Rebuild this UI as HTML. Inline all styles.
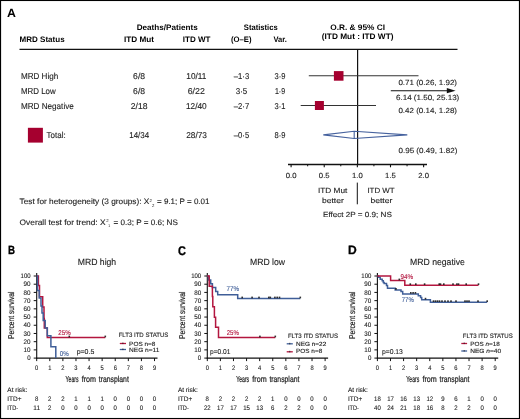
<!DOCTYPE html>
<html><head><meta charset="utf-8"><style>
html,body{margin:0;padding:0;background:#fff;}
body{width:520px;height:419px;overflow:hidden;}
svg{display:block;font-family:"Liberation Sans", sans-serif;will-change:transform;text-rendering:geometricPrecision;}
</style></head><body>
<svg width="520" height="419" viewBox="0 0 520 419">
<rect x="0" y="0" width="520" height="419" fill="#fff"/>
<text x="7" y="17" font-size="12" font-weight="bold" textLength="8.9" lengthAdjust="spacingAndGlyphs" fill="#000">A</text>
<text x="19.6" y="42" font-size="8.0" font-weight="bold" textLength="45" lengthAdjust="spacingAndGlyphs" fill="#000">MRD Status</text>
<text x="136.7" y="29.8" font-size="8.0" font-weight="bold" textLength="61" lengthAdjust="spacingAndGlyphs" fill="#000">Deaths/Patients</text>
<text x="124" y="41.8" font-size="8.0" font-weight="bold" textLength="30" lengthAdjust="spacingAndGlyphs" fill="#000">ITD Mut</text>
<text x="182.8" y="41.8" font-size="8.0" font-weight="bold" textLength="27.6" lengthAdjust="spacingAndGlyphs" fill="#000">ITD WT</text>
<text x="243.8" y="29.8" font-size="8.0" font-weight="bold" textLength="33.9" lengthAdjust="spacingAndGlyphs" fill="#000">Statistics</text>
<text x="231" y="41.8" font-size="8.0" font-weight="bold" textLength="20.6" lengthAdjust="spacingAndGlyphs" fill="#000">(O–E)</text>
<text x="273.5" y="41.8" font-size="8.0" font-weight="bold" textLength="13.4" lengthAdjust="spacingAndGlyphs" fill="#000">Var.</text>
<text x="330.2" y="29.8" font-size="8.0" font-weight="bold" textLength="54.8" lengthAdjust="spacingAndGlyphs" fill="#000">O.R. &amp; 95% CI</text>
<text x="321.8" y="39.2" font-size="8.0" font-weight="bold" textLength="71.7" lengthAdjust="spacingAndGlyphs" fill="#000">(ITD Mut : ITD WT)</text>
<line x1="19.5" y1="49.4" x2="457.5" y2="49.4" stroke="#111" stroke-width="1.4"/>
<text x="20.9" y="79" font-size="8.5" textLength="37.3" lengthAdjust="spacingAndGlyphs" fill="#1e1e1e" stroke="#1e1e1e" stroke-width="0.12">MRD High</text>
<text x="133.1" y="79" font-size="8.5" textLength="12" lengthAdjust="spacingAndGlyphs" fill="#1e1e1e" stroke="#1e1e1e" stroke-width="0.12">6/8</text>
<text x="186.3" y="79" font-size="8.5" textLength="20" lengthAdjust="spacingAndGlyphs" fill="#1e1e1e" stroke="#1e1e1e" stroke-width="0.12">10/11</text>
<text x="233.8" y="79" font-size="8.5" textLength="15.4" lengthAdjust="spacingAndGlyphs" fill="#1e1e1e" stroke="#1e1e1e" stroke-width="0.12">–1·3</text>
<text x="274.55" y="79" font-size="8.5" textLength="10.9" lengthAdjust="spacingAndGlyphs" fill="#1e1e1e" stroke="#1e1e1e" stroke-width="0.12">3·9</text>
<text x="20.9" y="94" font-size="8.5" textLength="34.8" lengthAdjust="spacingAndGlyphs" fill="#1e1e1e" stroke="#1e1e1e" stroke-width="0.12">MRD Low</text>
<text x="133.1" y="94" font-size="8.5" textLength="12" lengthAdjust="spacingAndGlyphs" fill="#1e1e1e" stroke="#1e1e1e" stroke-width="0.12">6/8</text>
<text x="187.7" y="94" font-size="8.5" textLength="17.2" lengthAdjust="spacingAndGlyphs" fill="#1e1e1e" stroke="#1e1e1e" stroke-width="0.12">6/22</text>
<text x="235.7" y="94" font-size="8.5" textLength="11.6" lengthAdjust="spacingAndGlyphs" fill="#1e1e1e" stroke="#1e1e1e" stroke-width="0.12">3·5</text>
<text x="274.9" y="94" font-size="8.5" textLength="10.2" lengthAdjust="spacingAndGlyphs" fill="#1e1e1e" stroke="#1e1e1e" stroke-width="0.12">1·9</text>
<text x="20.9" y="108.9" font-size="8.5" textLength="52.9" lengthAdjust="spacingAndGlyphs" fill="#1e1e1e" stroke="#1e1e1e" stroke-width="0.12">MRD Negative</text>
<text x="130.7" y="108.9" font-size="8.5" textLength="16.8" lengthAdjust="spacingAndGlyphs" fill="#1e1e1e" stroke="#1e1e1e" stroke-width="0.12">2/18</text>
<text x="185.9" y="108.9" font-size="8.5" textLength="20.8" lengthAdjust="spacingAndGlyphs" fill="#1e1e1e" stroke="#1e1e1e" stroke-width="0.12">12/40</text>
<text x="233.8" y="108.9" font-size="8.5" textLength="15.4" lengthAdjust="spacingAndGlyphs" fill="#1e1e1e" stroke="#1e1e1e" stroke-width="0.12">–2·7</text>
<text x="274.55" y="108.9" font-size="8.5" textLength="10.9" lengthAdjust="spacingAndGlyphs" fill="#1e1e1e" stroke="#1e1e1e" stroke-width="0.12">3·1</text>
<rect x="27.9" y="127.8" width="15" height="14.8" fill="#a5002f"/>
<text x="46.6" y="138" font-size="8.5" textLength="19.2" lengthAdjust="spacingAndGlyphs" fill="#1e1e1e" stroke="#1e1e1e" stroke-width="0.12">Total:</text>
<text x="129.2" y="138" font-size="8.5" textLength="20" lengthAdjust="spacingAndGlyphs" fill="#1e1e1e" stroke="#1e1e1e" stroke-width="0.12">14/34</text>
<text x="186.2" y="138" font-size="8.5" textLength="20.8" lengthAdjust="spacingAndGlyphs" fill="#1e1e1e" stroke="#1e1e1e" stroke-width="0.12">28/73</text>
<text x="233.8" y="138" font-size="8.5" textLength="15.4" lengthAdjust="spacingAndGlyphs" fill="#1e1e1e" stroke="#1e1e1e" stroke-width="0.12">–0·5</text>
<text x="274.55" y="138" font-size="8.5" textLength="10.9" lengthAdjust="spacingAndGlyphs" fill="#1e1e1e" stroke="#1e1e1e" stroke-width="0.12">8·9</text>
<line x1="357.6" y1="49.4" x2="357.6" y2="164.5" stroke="#111" stroke-width="1.2"/>
<line x1="308.8" y1="75.7" x2="418.5" y2="75.7" stroke="#333" stroke-width="1.1"/>
<rect x="333.9" y="71.1" width="9.6" height="9.6" fill="#a5002f"/>
<line x1="390.8" y1="90.7" x2="449" y2="90.7" stroke="#111" stroke-width="1.1"/>
<polygon points="446.8,88.1 455.6,90.7 446.8,93.3" fill="#111"/>
<line x1="300.7" y1="105.5" x2="376" y2="105.5" stroke="#333" stroke-width="1.1"/>
<rect x="314.9" y="101" width="9" height="9" fill="#a5002f"/>
<polygon points="323.3,134.85 354.2,131.2 407.3,134.85 354.2,138.5" fill="none" stroke="#46629e" stroke-width="1.1"/>
<line x1="354.2" y1="131.2" x2="354.2" y2="138.5" stroke="#46629e" stroke-width="1.1"/>
<text x="398.4" y="85.3" font-size="7.4" textLength="58.6" lengthAdjust="spacingAndGlyphs" fill="#1e1e1e" stroke="#1e1e1e" stroke-width="0.12">0.71 (0.26, 1.92)</text>
<text x="396.0" y="100.3" font-size="7.4" textLength="63.3" lengthAdjust="spacingAndGlyphs" fill="#1e1e1e" stroke="#1e1e1e" stroke-width="0.12">6.14 (1.50, 25.13)</text>
<text x="398.4" y="112.5" font-size="7.4" textLength="58.6" lengthAdjust="spacingAndGlyphs" fill="#1e1e1e" stroke="#1e1e1e" stroke-width="0.12">0.42 (0.14, 1.28)</text>
<text x="398.5" y="152.6" font-size="7.4" textLength="58.9" lengthAdjust="spacingAndGlyphs" fill="#1e1e1e" stroke="#1e1e1e" stroke-width="0.12">0.95 (0.49, 1.82)</text>
<line x1="288" y1="164.5" x2="427" y2="164.5" stroke="#111" stroke-width="1.4"/>
<line x1="291.1" y1="164.5" x2="291.1" y2="167.3" stroke="#111" stroke-width="1.1"/>
<text x="285.75" y="177.8" font-size="7.4" textLength="10.7" lengthAdjust="spacingAndGlyphs" fill="#1e1e1e" stroke="#1e1e1e" stroke-width="0.12">0.0</text>
<line x1="307.66" y1="164.5" x2="307.66" y2="166.3" stroke="#111" stroke-width="1.0"/>
<line x1="324.23" y1="164.5" x2="324.23" y2="167.3" stroke="#111" stroke-width="1.1"/>
<text x="318.88" y="177.8" font-size="7.4" textLength="10.7" lengthAdjust="spacingAndGlyphs" fill="#1e1e1e" stroke="#1e1e1e" stroke-width="0.12">0.5</text>
<line x1="340.79" y1="164.5" x2="340.79" y2="166.3" stroke="#111" stroke-width="1.0"/>
<line x1="357.36" y1="164.5" x2="357.36" y2="167.3" stroke="#111" stroke-width="1.1"/>
<text x="352.01" y="177.8" font-size="7.4" textLength="10.7" lengthAdjust="spacingAndGlyphs" fill="#1e1e1e" stroke="#1e1e1e" stroke-width="0.12">1.0</text>
<line x1="373.92" y1="164.5" x2="373.92" y2="166.3" stroke="#111" stroke-width="1.0"/>
<line x1="390.49" y1="164.5" x2="390.49" y2="167.3" stroke="#111" stroke-width="1.1"/>
<text x="385.14" y="177.8" font-size="7.4" textLength="10.7" lengthAdjust="spacingAndGlyphs" fill="#1e1e1e" stroke="#1e1e1e" stroke-width="0.12">1.5</text>
<line x1="407.05" y1="164.5" x2="407.05" y2="166.3" stroke="#111" stroke-width="1.0"/>
<line x1="423.62" y1="164.5" x2="423.62" y2="167.3" stroke="#111" stroke-width="1.1"/>
<text x="418.27" y="177.8" font-size="7.4" textLength="10.7" lengthAdjust="spacingAndGlyphs" fill="#1e1e1e" stroke="#1e1e1e" stroke-width="0.12">2.0</text>
<line x1="357.3" y1="182.6" x2="357.3" y2="204.3" stroke="#111" stroke-width="1.0"/>
<text x="318" y="193" font-size="7.4" textLength="29.3" lengthAdjust="spacingAndGlyphs" fill="#1e1e1e" stroke="#1e1e1e" stroke-width="0.12">ITD Mut</text>
<text x="321.9" y="203.1" font-size="7.4" textLength="21.9" lengthAdjust="spacingAndGlyphs" fill="#1e1e1e" stroke="#1e1e1e" stroke-width="0.12">better</text>
<text x="367.4" y="193" font-size="7.4" textLength="27.2" lengthAdjust="spacingAndGlyphs" fill="#1e1e1e" stroke="#1e1e1e" stroke-width="0.12">ITD WT</text>
<text x="370.4" y="203.1" font-size="7.4" textLength="21.9" lengthAdjust="spacingAndGlyphs" fill="#1e1e1e" stroke="#1e1e1e" stroke-width="0.12">better</text>
<text x="323" y="217" font-size="7.4" textLength="68.8" lengthAdjust="spacingAndGlyphs" fill="#1e1e1e" stroke="#1e1e1e" stroke-width="0.12">Effect 2P = 0.9; NS</text>
<text x="19.6" y="204.4" font-size="7.9" textLength="129.8" lengthAdjust="spacingAndGlyphs" fill="#1e1e1e" stroke="#1e1e1e" stroke-width="0.12">Test for heterogeneity (3 groups): X</text>
<text x="149.6" y="201.6" font-size="4.2" textLength="2.4" lengthAdjust="spacingAndGlyphs" fill="#1e1e1e">2</text>
<text x="151.9" y="207.3" font-size="4.2" textLength="2.4" lengthAdjust="spacingAndGlyphs" fill="#1e1e1e">2</text>
<text x="157" y="204.4" font-size="7.9" textLength="52.5" lengthAdjust="spacingAndGlyphs" fill="#1e1e1e" stroke="#1e1e1e" stroke-width="0.12">= 9.1; P = 0.01</text>
<text x="19.6" y="224.5" font-size="7.9" textLength="86" lengthAdjust="spacingAndGlyphs" fill="#1e1e1e" stroke="#1e1e1e" stroke-width="0.12">Overall test for trend: X</text>
<text x="106.2" y="221.7" font-size="4.2" textLength="2.4" lengthAdjust="spacingAndGlyphs" fill="#1e1e1e">2</text>
<text x="108.3" y="226.9" font-size="4.2" textLength="2.0" lengthAdjust="spacingAndGlyphs" fill="#1e1e1e">1</text>
<text x="113.6" y="224.5" font-size="7.9" textLength="64.2" lengthAdjust="spacingAndGlyphs" fill="#1e1e1e" stroke="#1e1e1e" stroke-width="0.12">= 0.3; P = 0.6; NS</text>
<text x="7.9" y="254.2" font-size="11.9" font-weight="bold" textLength="7.0" lengthAdjust="spacingAndGlyphs" fill="#000" stroke="#000" stroke-width="0.3">B</text>
<text x="77.7" y="264.9" font-size="9.1" textLength="38.5" lengthAdjust="spacingAndGlyphs" fill="#1e1e1e" stroke="#1e1e1e" stroke-width="0.12">MRD high</text>
<line x1="36.7" y1="273" x2="36.7" y2="358.70000000000005" stroke="#111" stroke-width="1.1"/>
<line x1="33.7" y1="358.1" x2="36.7" y2="358.1" stroke="#111" stroke-width="1.0"/>
<text x="27.2" y="360.2" font-size="6.6" textLength="3.4" lengthAdjust="spacingAndGlyphs" fill="#1e1e1e" stroke="#1e1e1e" stroke-width="0.12">0</text>
<line x1="33.7" y1="349.89" x2="36.7" y2="349.89" stroke="#111" stroke-width="1.0"/>
<text x="23.6" y="351.99" font-size="6.6" textLength="7.0" lengthAdjust="spacingAndGlyphs" fill="#1e1e1e" stroke="#1e1e1e" stroke-width="0.12">10</text>
<line x1="33.7" y1="341.68" x2="36.7" y2="341.68" stroke="#111" stroke-width="1.0"/>
<text x="23.6" y="343.78" font-size="6.6" textLength="7.0" lengthAdjust="spacingAndGlyphs" fill="#1e1e1e" stroke="#1e1e1e" stroke-width="0.12">20</text>
<line x1="33.7" y1="333.47" x2="36.7" y2="333.47" stroke="#111" stroke-width="1.0"/>
<text x="23.6" y="335.57" font-size="6.6" textLength="7.0" lengthAdjust="spacingAndGlyphs" fill="#1e1e1e" stroke="#1e1e1e" stroke-width="0.12">30</text>
<line x1="33.7" y1="325.26" x2="36.7" y2="325.26" stroke="#111" stroke-width="1.0"/>
<text x="23.6" y="327.36" font-size="6.6" textLength="7.0" lengthAdjust="spacingAndGlyphs" fill="#1e1e1e" stroke="#1e1e1e" stroke-width="0.12">40</text>
<line x1="33.7" y1="317.05" x2="36.7" y2="317.05" stroke="#111" stroke-width="1.0"/>
<text x="23.6" y="319.15" font-size="6.6" textLength="7.0" lengthAdjust="spacingAndGlyphs" fill="#1e1e1e" stroke="#1e1e1e" stroke-width="0.12">50</text>
<line x1="33.7" y1="308.84" x2="36.7" y2="308.84" stroke="#111" stroke-width="1.0"/>
<text x="23.6" y="310.94" font-size="6.6" textLength="7.0" lengthAdjust="spacingAndGlyphs" fill="#1e1e1e" stroke="#1e1e1e" stroke-width="0.12">60</text>
<line x1="33.7" y1="300.63" x2="36.7" y2="300.63" stroke="#111" stroke-width="1.0"/>
<text x="23.6" y="302.73" font-size="6.6" textLength="7.0" lengthAdjust="spacingAndGlyphs" fill="#1e1e1e" stroke="#1e1e1e" stroke-width="0.12">70</text>
<line x1="33.7" y1="292.42" x2="36.7" y2="292.42" stroke="#111" stroke-width="1.0"/>
<text x="23.6" y="294.52" font-size="6.6" textLength="7.0" lengthAdjust="spacingAndGlyphs" fill="#1e1e1e" stroke="#1e1e1e" stroke-width="0.12">80</text>
<line x1="33.7" y1="284.21" x2="36.7" y2="284.21" stroke="#111" stroke-width="1.0"/>
<text x="23.6" y="286.31" font-size="6.6" textLength="7.0" lengthAdjust="spacingAndGlyphs" fill="#1e1e1e" stroke="#1e1e1e" stroke-width="0.12">90</text>
<line x1="33.7" y1="276.0" x2="36.7" y2="276.0" stroke="#111" stroke-width="1.0"/>
<text x="20.6" y="278.1" font-size="6.6" textLength="10.0" lengthAdjust="spacingAndGlyphs" fill="#1e1e1e" stroke="#1e1e1e" stroke-width="0.12">100</text>
<line x1="36.2" y1="358.1" x2="157.5" y2="358.1" stroke="#111" stroke-width="1.3"/>
<line x1="36.7" y1="358.1" x2="36.7" y2="361.1" stroke="#111" stroke-width="1.0"/>
<text x="35.1" y="369.7" font-size="6.6" textLength="3.2" lengthAdjust="spacingAndGlyphs" fill="#1e1e1e" stroke="#1e1e1e" stroke-width="0.12">0</text>
<line x1="49.79" y1="358.1" x2="49.79" y2="361.1" stroke="#111" stroke-width="1.0"/>
<text x="48.19" y="369.7" font-size="6.6" textLength="3.2" lengthAdjust="spacingAndGlyphs" fill="#1e1e1e" stroke="#1e1e1e" stroke-width="0.12">1</text>
<line x1="62.88" y1="358.1" x2="62.88" y2="361.1" stroke="#111" stroke-width="1.0"/>
<text x="61.28" y="369.7" font-size="6.6" textLength="3.2" lengthAdjust="spacingAndGlyphs" fill="#1e1e1e" stroke="#1e1e1e" stroke-width="0.12">2</text>
<line x1="75.97" y1="358.1" x2="75.97" y2="361.1" stroke="#111" stroke-width="1.0"/>
<text x="74.37" y="369.7" font-size="6.6" textLength="3.2" lengthAdjust="spacingAndGlyphs" fill="#1e1e1e" stroke="#1e1e1e" stroke-width="0.12">3</text>
<line x1="89.06" y1="358.1" x2="89.06" y2="361.1" stroke="#111" stroke-width="1.0"/>
<text x="87.46" y="369.7" font-size="6.6" textLength="3.2" lengthAdjust="spacingAndGlyphs" fill="#1e1e1e" stroke="#1e1e1e" stroke-width="0.12">4</text>
<line x1="102.15" y1="358.1" x2="102.15" y2="361.1" stroke="#111" stroke-width="1.0"/>
<text x="100.55" y="369.7" font-size="6.6" textLength="3.2" lengthAdjust="spacingAndGlyphs" fill="#1e1e1e" stroke="#1e1e1e" stroke-width="0.12">5</text>
<line x1="115.24" y1="358.1" x2="115.24" y2="361.1" stroke="#111" stroke-width="1.0"/>
<text x="113.64" y="369.7" font-size="6.6" textLength="3.2" lengthAdjust="spacingAndGlyphs" fill="#1e1e1e" stroke="#1e1e1e" stroke-width="0.12">6</text>
<line x1="128.33" y1="358.1" x2="128.33" y2="361.1" stroke="#111" stroke-width="1.0"/>
<text x="126.73" y="369.7" font-size="6.6" textLength="3.2" lengthAdjust="spacingAndGlyphs" fill="#1e1e1e" stroke="#1e1e1e" stroke-width="0.12">7</text>
<line x1="141.42" y1="358.1" x2="141.42" y2="361.1" stroke="#111" stroke-width="1.0"/>
<text x="139.82" y="369.7" font-size="6.6" textLength="3.2" lengthAdjust="spacingAndGlyphs" fill="#1e1e1e" stroke="#1e1e1e" stroke-width="0.12">8</text>
<line x1="154.51" y1="358.1" x2="154.51" y2="361.1" stroke="#111" stroke-width="1.0"/>
<text x="152.91" y="369.7" font-size="6.6" textLength="3.2" lengthAdjust="spacingAndGlyphs" fill="#1e1e1e" stroke="#1e1e1e" stroke-width="0.12">9</text>
<text x="65.6" y="381.6" font-size="8.6" textLength="13.0" lengthAdjust="spacingAndGlyphs" fill="#1e1e1e" stroke="#1e1e1e" stroke-width="0.22">Years</text>
<text x="81.7" y="381.6" font-size="8.6" textLength="14.3" lengthAdjust="spacingAndGlyphs" fill="#1e1e1e" stroke="#1e1e1e" stroke-width="0.22">from</text>
<text x="98.8" y="381.6" font-size="8.6" textLength="30.0" lengthAdjust="spacingAndGlyphs" fill="#1e1e1e" stroke="#1e1e1e" stroke-width="0.22">transplant</text>
<text x="7.3" y="391.8" font-size="6.6" textLength="19.9" lengthAdjust="spacingAndGlyphs" fill="#1e1e1e" stroke="#1e1e1e" stroke-width="0.12">At risk:</text>
<text x="7.3" y="401.0" font-size="6.6" textLength="14.3" lengthAdjust="spacingAndGlyphs" fill="#1e1e1e" stroke="#1e1e1e" stroke-width="0.12">ITD+</text>
<text x="7.3" y="409.9" font-size="6.6" textLength="10.9" lengthAdjust="spacingAndGlyphs" fill="#1e1e1e" stroke="#1e1e1e" stroke-width="0.12">ITD-</text>
<text x="35.03" y="401.0" font-size="6.6" textLength="3.35" lengthAdjust="spacingAndGlyphs" fill="#1e1e1e" stroke="#1e1e1e" stroke-width="0.12">8</text>
<text x="48.12" y="401.0" font-size="6.6" textLength="3.35" lengthAdjust="spacingAndGlyphs" fill="#1e1e1e" stroke="#1e1e1e" stroke-width="0.12">2</text>
<text x="61.21" y="401.0" font-size="6.6" textLength="3.35" lengthAdjust="spacingAndGlyphs" fill="#1e1e1e" stroke="#1e1e1e" stroke-width="0.12">2</text>
<text x="74.3" y="401.0" font-size="6.6" textLength="3.35" lengthAdjust="spacingAndGlyphs" fill="#1e1e1e" stroke="#1e1e1e" stroke-width="0.12">1</text>
<text x="87.39" y="401.0" font-size="6.6" textLength="3.35" lengthAdjust="spacingAndGlyphs" fill="#1e1e1e" stroke="#1e1e1e" stroke-width="0.12">1</text>
<text x="100.48" y="401.0" font-size="6.6" textLength="3.35" lengthAdjust="spacingAndGlyphs" fill="#1e1e1e" stroke="#1e1e1e" stroke-width="0.12">1</text>
<text x="113.56" y="401.0" font-size="6.6" textLength="3.35" lengthAdjust="spacingAndGlyphs" fill="#1e1e1e" stroke="#1e1e1e" stroke-width="0.12">0</text>
<text x="126.66" y="401.0" font-size="6.6" textLength="3.35" lengthAdjust="spacingAndGlyphs" fill="#1e1e1e" stroke="#1e1e1e" stroke-width="0.12">0</text>
<text x="139.74" y="401.0" font-size="6.6" textLength="3.35" lengthAdjust="spacingAndGlyphs" fill="#1e1e1e" stroke="#1e1e1e" stroke-width="0.12">0</text>
<text x="152.83" y="401.0" font-size="6.6" textLength="3.35" lengthAdjust="spacingAndGlyphs" fill="#1e1e1e" stroke="#1e1e1e" stroke-width="0.12">0</text>
<text x="33.35" y="409.9" font-size="6.6" textLength="6.7" lengthAdjust="spacingAndGlyphs" fill="#1e1e1e" stroke="#1e1e1e" stroke-width="0.12">11</text>
<text x="48.12" y="409.9" font-size="6.6" textLength="3.35" lengthAdjust="spacingAndGlyphs" fill="#1e1e1e" stroke="#1e1e1e" stroke-width="0.12">2</text>
<text x="61.21" y="409.9" font-size="6.6" textLength="3.35" lengthAdjust="spacingAndGlyphs" fill="#1e1e1e" stroke="#1e1e1e" stroke-width="0.12">0</text>
<text x="74.3" y="409.9" font-size="6.6" textLength="3.35" lengthAdjust="spacingAndGlyphs" fill="#1e1e1e" stroke="#1e1e1e" stroke-width="0.12">0</text>
<text x="87.39" y="409.9" font-size="6.6" textLength="3.35" lengthAdjust="spacingAndGlyphs" fill="#1e1e1e" stroke="#1e1e1e" stroke-width="0.12">0</text>
<text x="100.48" y="409.9" font-size="6.6" textLength="3.35" lengthAdjust="spacingAndGlyphs" fill="#1e1e1e" stroke="#1e1e1e" stroke-width="0.12">0</text>
<text x="113.56" y="409.9" font-size="6.6" textLength="3.35" lengthAdjust="spacingAndGlyphs" fill="#1e1e1e" stroke="#1e1e1e" stroke-width="0.12">0</text>
<text x="126.66" y="409.9" font-size="6.6" textLength="3.35" lengthAdjust="spacingAndGlyphs" fill="#1e1e1e" stroke="#1e1e1e" stroke-width="0.12">0</text>
<text x="139.74" y="409.9" font-size="6.6" textLength="3.35" lengthAdjust="spacingAndGlyphs" fill="#1e1e1e" stroke="#1e1e1e" stroke-width="0.12">0</text>
<text x="152.83" y="409.9" font-size="6.6" textLength="3.35" lengthAdjust="spacingAndGlyphs" fill="#1e1e1e" stroke="#1e1e1e" stroke-width="0.12">0</text>
<text transform="translate(14.4,315.2) rotate(-90)" x="0" y="0" font-size="8.4" text-anchor="middle" textLength="47.4" lengthAdjust="spacingAndGlyphs" fill="#1e1e1e" stroke="#1e1e1e" stroke-width="0.2">Percent survival</text>
<text x="177.9" y="254.5" font-size="12.6" font-weight="bold" textLength="7.9" lengthAdjust="spacingAndGlyphs" fill="#000" stroke="#000" stroke-width="0.3">C</text>
<text x="250" y="264.9" font-size="9.1" textLength="35.1" lengthAdjust="spacingAndGlyphs" fill="#1e1e1e" stroke="#1e1e1e" stroke-width="0.12">MRD low</text>
<line x1="207.3" y1="273" x2="207.3" y2="358.70000000000005" stroke="#111" stroke-width="1.1"/>
<line x1="204.3" y1="358.1" x2="207.3" y2="358.1" stroke="#111" stroke-width="1.0"/>
<text x="197.8" y="360.2" font-size="6.6" textLength="3.4" lengthAdjust="spacingAndGlyphs" fill="#1e1e1e" stroke="#1e1e1e" stroke-width="0.12">0</text>
<line x1="204.3" y1="349.89" x2="207.3" y2="349.89" stroke="#111" stroke-width="1.0"/>
<text x="194.2" y="351.99" font-size="6.6" textLength="7.0" lengthAdjust="spacingAndGlyphs" fill="#1e1e1e" stroke="#1e1e1e" stroke-width="0.12">10</text>
<line x1="204.3" y1="341.68" x2="207.3" y2="341.68" stroke="#111" stroke-width="1.0"/>
<text x="194.2" y="343.78" font-size="6.6" textLength="7.0" lengthAdjust="spacingAndGlyphs" fill="#1e1e1e" stroke="#1e1e1e" stroke-width="0.12">20</text>
<line x1="204.3" y1="333.47" x2="207.3" y2="333.47" stroke="#111" stroke-width="1.0"/>
<text x="194.2" y="335.57" font-size="6.6" textLength="7.0" lengthAdjust="spacingAndGlyphs" fill="#1e1e1e" stroke="#1e1e1e" stroke-width="0.12">30</text>
<line x1="204.3" y1="325.26" x2="207.3" y2="325.26" stroke="#111" stroke-width="1.0"/>
<text x="194.2" y="327.36" font-size="6.6" textLength="7.0" lengthAdjust="spacingAndGlyphs" fill="#1e1e1e" stroke="#1e1e1e" stroke-width="0.12">40</text>
<line x1="204.3" y1="317.05" x2="207.3" y2="317.05" stroke="#111" stroke-width="1.0"/>
<text x="194.2" y="319.15" font-size="6.6" textLength="7.0" lengthAdjust="spacingAndGlyphs" fill="#1e1e1e" stroke="#1e1e1e" stroke-width="0.12">50</text>
<line x1="204.3" y1="308.84" x2="207.3" y2="308.84" stroke="#111" stroke-width="1.0"/>
<text x="194.2" y="310.94" font-size="6.6" textLength="7.0" lengthAdjust="spacingAndGlyphs" fill="#1e1e1e" stroke="#1e1e1e" stroke-width="0.12">60</text>
<line x1="204.3" y1="300.63" x2="207.3" y2="300.63" stroke="#111" stroke-width="1.0"/>
<text x="194.2" y="302.73" font-size="6.6" textLength="7.0" lengthAdjust="spacingAndGlyphs" fill="#1e1e1e" stroke="#1e1e1e" stroke-width="0.12">70</text>
<line x1="204.3" y1="292.42" x2="207.3" y2="292.42" stroke="#111" stroke-width="1.0"/>
<text x="194.2" y="294.52" font-size="6.6" textLength="7.0" lengthAdjust="spacingAndGlyphs" fill="#1e1e1e" stroke="#1e1e1e" stroke-width="0.12">80</text>
<line x1="204.3" y1="284.21" x2="207.3" y2="284.21" stroke="#111" stroke-width="1.0"/>
<text x="194.2" y="286.31" font-size="6.6" textLength="7.0" lengthAdjust="spacingAndGlyphs" fill="#1e1e1e" stroke="#1e1e1e" stroke-width="0.12">90</text>
<line x1="204.3" y1="276.0" x2="207.3" y2="276.0" stroke="#111" stroke-width="1.0"/>
<text x="191.2" y="278.1" font-size="6.6" textLength="10.0" lengthAdjust="spacingAndGlyphs" fill="#1e1e1e" stroke="#1e1e1e" stroke-width="0.12">100</text>
<line x1="206.8" y1="358.1" x2="328.1" y2="358.1" stroke="#111" stroke-width="1.3"/>
<line x1="207.3" y1="358.1" x2="207.3" y2="361.1" stroke="#111" stroke-width="1.0"/>
<text x="205.7" y="369.7" font-size="6.6" textLength="3.2" lengthAdjust="spacingAndGlyphs" fill="#1e1e1e" stroke="#1e1e1e" stroke-width="0.12">0</text>
<line x1="220.39" y1="358.1" x2="220.39" y2="361.1" stroke="#111" stroke-width="1.0"/>
<text x="218.79" y="369.7" font-size="6.6" textLength="3.2" lengthAdjust="spacingAndGlyphs" fill="#1e1e1e" stroke="#1e1e1e" stroke-width="0.12">1</text>
<line x1="233.48" y1="358.1" x2="233.48" y2="361.1" stroke="#111" stroke-width="1.0"/>
<text x="231.88" y="369.7" font-size="6.6" textLength="3.2" lengthAdjust="spacingAndGlyphs" fill="#1e1e1e" stroke="#1e1e1e" stroke-width="0.12">2</text>
<line x1="246.57" y1="358.1" x2="246.57" y2="361.1" stroke="#111" stroke-width="1.0"/>
<text x="244.97" y="369.7" font-size="6.6" textLength="3.2" lengthAdjust="spacingAndGlyphs" fill="#1e1e1e" stroke="#1e1e1e" stroke-width="0.12">3</text>
<line x1="259.66" y1="358.1" x2="259.66" y2="361.1" stroke="#111" stroke-width="1.0"/>
<text x="258.06" y="369.7" font-size="6.6" textLength="3.2" lengthAdjust="spacingAndGlyphs" fill="#1e1e1e" stroke="#1e1e1e" stroke-width="0.12">4</text>
<line x1="272.75" y1="358.1" x2="272.75" y2="361.1" stroke="#111" stroke-width="1.0"/>
<text x="271.15" y="369.7" font-size="6.6" textLength="3.2" lengthAdjust="spacingAndGlyphs" fill="#1e1e1e" stroke="#1e1e1e" stroke-width="0.12">5</text>
<line x1="285.84" y1="358.1" x2="285.84" y2="361.1" stroke="#111" stroke-width="1.0"/>
<text x="284.24" y="369.7" font-size="6.6" textLength="3.2" lengthAdjust="spacingAndGlyphs" fill="#1e1e1e" stroke="#1e1e1e" stroke-width="0.12">6</text>
<line x1="298.93" y1="358.1" x2="298.93" y2="361.1" stroke="#111" stroke-width="1.0"/>
<text x="297.33" y="369.7" font-size="6.6" textLength="3.2" lengthAdjust="spacingAndGlyphs" fill="#1e1e1e" stroke="#1e1e1e" stroke-width="0.12">7</text>
<line x1="312.02" y1="358.1" x2="312.02" y2="361.1" stroke="#111" stroke-width="1.0"/>
<text x="310.42" y="369.7" font-size="6.6" textLength="3.2" lengthAdjust="spacingAndGlyphs" fill="#1e1e1e" stroke="#1e1e1e" stroke-width="0.12">8</text>
<line x1="325.11" y1="358.1" x2="325.11" y2="361.1" stroke="#111" stroke-width="1.0"/>
<text x="323.51" y="369.7" font-size="6.6" textLength="3.2" lengthAdjust="spacingAndGlyphs" fill="#1e1e1e" stroke="#1e1e1e" stroke-width="0.12">9</text>
<text x="236.2" y="381.6" font-size="8.6" textLength="13.0" lengthAdjust="spacingAndGlyphs" fill="#1e1e1e" stroke="#1e1e1e" stroke-width="0.22">Years</text>
<text x="252.3" y="381.6" font-size="8.6" textLength="14.3" lengthAdjust="spacingAndGlyphs" fill="#1e1e1e" stroke="#1e1e1e" stroke-width="0.22">from</text>
<text x="269.4" y="381.6" font-size="8.6" textLength="30.0" lengthAdjust="spacingAndGlyphs" fill="#1e1e1e" stroke="#1e1e1e" stroke-width="0.22">transplant</text>
<text x="177.9" y="391.8" font-size="6.6" textLength="19.9" lengthAdjust="spacingAndGlyphs" fill="#1e1e1e" stroke="#1e1e1e" stroke-width="0.12">At risk:</text>
<text x="177.9" y="401.0" font-size="6.6" textLength="14.3" lengthAdjust="spacingAndGlyphs" fill="#1e1e1e" stroke="#1e1e1e" stroke-width="0.12">ITD+</text>
<text x="177.9" y="409.9" font-size="6.6" textLength="10.9" lengthAdjust="spacingAndGlyphs" fill="#1e1e1e" stroke="#1e1e1e" stroke-width="0.12">ITD-</text>
<text x="205.62" y="401.0" font-size="6.6" textLength="3.35" lengthAdjust="spacingAndGlyphs" fill="#1e1e1e" stroke="#1e1e1e" stroke-width="0.12">8</text>
<text x="218.71" y="401.0" font-size="6.6" textLength="3.35" lengthAdjust="spacingAndGlyphs" fill="#1e1e1e" stroke="#1e1e1e" stroke-width="0.12">2</text>
<text x="231.8" y="401.0" font-size="6.6" textLength="3.35" lengthAdjust="spacingAndGlyphs" fill="#1e1e1e" stroke="#1e1e1e" stroke-width="0.12">2</text>
<text x="244.89" y="401.0" font-size="6.6" textLength="3.35" lengthAdjust="spacingAndGlyphs" fill="#1e1e1e" stroke="#1e1e1e" stroke-width="0.12">2</text>
<text x="257.99" y="401.0" font-size="6.6" textLength="3.35" lengthAdjust="spacingAndGlyphs" fill="#1e1e1e" stroke="#1e1e1e" stroke-width="0.12">2</text>
<text x="271.07" y="401.0" font-size="6.6" textLength="3.35" lengthAdjust="spacingAndGlyphs" fill="#1e1e1e" stroke="#1e1e1e" stroke-width="0.12">1</text>
<text x="284.16" y="401.0" font-size="6.6" textLength="3.35" lengthAdjust="spacingAndGlyphs" fill="#1e1e1e" stroke="#1e1e1e" stroke-width="0.12">0</text>
<text x="297.25" y="401.0" font-size="6.6" textLength="3.35" lengthAdjust="spacingAndGlyphs" fill="#1e1e1e" stroke="#1e1e1e" stroke-width="0.12">0</text>
<text x="310.34" y="401.0" font-size="6.6" textLength="3.35" lengthAdjust="spacingAndGlyphs" fill="#1e1e1e" stroke="#1e1e1e" stroke-width="0.12">0</text>
<text x="323.44" y="401.0" font-size="6.6" textLength="3.35" lengthAdjust="spacingAndGlyphs" fill="#1e1e1e" stroke="#1e1e1e" stroke-width="0.12">0</text>
<text x="203.95" y="409.9" font-size="6.6" textLength="6.7" lengthAdjust="spacingAndGlyphs" fill="#1e1e1e" stroke="#1e1e1e" stroke-width="0.12">22</text>
<text x="217.04" y="409.9" font-size="6.6" textLength="6.7" lengthAdjust="spacingAndGlyphs" fill="#1e1e1e" stroke="#1e1e1e" stroke-width="0.12">17</text>
<text x="230.13" y="409.9" font-size="6.6" textLength="6.7" lengthAdjust="spacingAndGlyphs" fill="#1e1e1e" stroke="#1e1e1e" stroke-width="0.12">17</text>
<text x="243.22" y="409.9" font-size="6.6" textLength="6.7" lengthAdjust="spacingAndGlyphs" fill="#1e1e1e" stroke="#1e1e1e" stroke-width="0.12">15</text>
<text x="256.31" y="409.9" font-size="6.6" textLength="6.7" lengthAdjust="spacingAndGlyphs" fill="#1e1e1e" stroke="#1e1e1e" stroke-width="0.12">13</text>
<text x="271.07" y="409.9" font-size="6.6" textLength="3.35" lengthAdjust="spacingAndGlyphs" fill="#1e1e1e" stroke="#1e1e1e" stroke-width="0.12">6</text>
<text x="284.16" y="409.9" font-size="6.6" textLength="3.35" lengthAdjust="spacingAndGlyphs" fill="#1e1e1e" stroke="#1e1e1e" stroke-width="0.12">2</text>
<text x="297.25" y="409.9" font-size="6.6" textLength="3.35" lengthAdjust="spacingAndGlyphs" fill="#1e1e1e" stroke="#1e1e1e" stroke-width="0.12">2</text>
<text x="310.34" y="409.9" font-size="6.6" textLength="3.35" lengthAdjust="spacingAndGlyphs" fill="#1e1e1e" stroke="#1e1e1e" stroke-width="0.12">0</text>
<text x="323.44" y="409.9" font-size="6.6" textLength="3.35" lengthAdjust="spacingAndGlyphs" fill="#1e1e1e" stroke="#1e1e1e" stroke-width="0.12">0</text>
<text transform="translate(185.0,315.2) rotate(-90)" x="0" y="0" font-size="8.4" text-anchor="middle" textLength="47.4" lengthAdjust="spacingAndGlyphs" fill="#1e1e1e" stroke="#1e1e1e" stroke-width="0.2">Percent survival</text>
<text x="347.9" y="254.3" font-size="12.0" font-weight="bold" textLength="8.7" lengthAdjust="spacingAndGlyphs" fill="#000" stroke="#000" stroke-width="0.3">D</text>
<text x="410" y="264.9" font-size="9.1" textLength="54.9" lengthAdjust="spacingAndGlyphs" fill="#1e1e1e" stroke="#1e1e1e" stroke-width="0.12">MRD negative</text>
<line x1="377.4" y1="273" x2="377.4" y2="358.70000000000005" stroke="#111" stroke-width="1.1"/>
<line x1="374.4" y1="358.1" x2="377.4" y2="358.1" stroke="#111" stroke-width="1.0"/>
<text x="367.9" y="360.2" font-size="6.6" textLength="3.4" lengthAdjust="spacingAndGlyphs" fill="#1e1e1e" stroke="#1e1e1e" stroke-width="0.12">0</text>
<line x1="374.4" y1="349.89" x2="377.4" y2="349.89" stroke="#111" stroke-width="1.0"/>
<text x="364.3" y="351.99" font-size="6.6" textLength="7.0" lengthAdjust="spacingAndGlyphs" fill="#1e1e1e" stroke="#1e1e1e" stroke-width="0.12">10</text>
<line x1="374.4" y1="341.68" x2="377.4" y2="341.68" stroke="#111" stroke-width="1.0"/>
<text x="364.3" y="343.78" font-size="6.6" textLength="7.0" lengthAdjust="spacingAndGlyphs" fill="#1e1e1e" stroke="#1e1e1e" stroke-width="0.12">20</text>
<line x1="374.4" y1="333.47" x2="377.4" y2="333.47" stroke="#111" stroke-width="1.0"/>
<text x="364.3" y="335.57" font-size="6.6" textLength="7.0" lengthAdjust="spacingAndGlyphs" fill="#1e1e1e" stroke="#1e1e1e" stroke-width="0.12">30</text>
<line x1="374.4" y1="325.26" x2="377.4" y2="325.26" stroke="#111" stroke-width="1.0"/>
<text x="364.3" y="327.36" font-size="6.6" textLength="7.0" lengthAdjust="spacingAndGlyphs" fill="#1e1e1e" stroke="#1e1e1e" stroke-width="0.12">40</text>
<line x1="374.4" y1="317.05" x2="377.4" y2="317.05" stroke="#111" stroke-width="1.0"/>
<text x="364.3" y="319.15" font-size="6.6" textLength="7.0" lengthAdjust="spacingAndGlyphs" fill="#1e1e1e" stroke="#1e1e1e" stroke-width="0.12">50</text>
<line x1="374.4" y1="308.84" x2="377.4" y2="308.84" stroke="#111" stroke-width="1.0"/>
<text x="364.3" y="310.94" font-size="6.6" textLength="7.0" lengthAdjust="spacingAndGlyphs" fill="#1e1e1e" stroke="#1e1e1e" stroke-width="0.12">60</text>
<line x1="374.4" y1="300.63" x2="377.4" y2="300.63" stroke="#111" stroke-width="1.0"/>
<text x="364.3" y="302.73" font-size="6.6" textLength="7.0" lengthAdjust="spacingAndGlyphs" fill="#1e1e1e" stroke="#1e1e1e" stroke-width="0.12">70</text>
<line x1="374.4" y1="292.42" x2="377.4" y2="292.42" stroke="#111" stroke-width="1.0"/>
<text x="364.3" y="294.52" font-size="6.6" textLength="7.0" lengthAdjust="spacingAndGlyphs" fill="#1e1e1e" stroke="#1e1e1e" stroke-width="0.12">80</text>
<line x1="374.4" y1="284.21" x2="377.4" y2="284.21" stroke="#111" stroke-width="1.0"/>
<text x="364.3" y="286.31" font-size="6.6" textLength="7.0" lengthAdjust="spacingAndGlyphs" fill="#1e1e1e" stroke="#1e1e1e" stroke-width="0.12">90</text>
<line x1="374.4" y1="276.0" x2="377.4" y2="276.0" stroke="#111" stroke-width="1.0"/>
<text x="361.3" y="278.1" font-size="6.6" textLength="10.0" lengthAdjust="spacingAndGlyphs" fill="#1e1e1e" stroke="#1e1e1e" stroke-width="0.12">100</text>
<line x1="376.9" y1="358.1" x2="498.2" y2="358.1" stroke="#111" stroke-width="1.3"/>
<line x1="377.4" y1="358.1" x2="377.4" y2="361.1" stroke="#111" stroke-width="1.0"/>
<text x="375.8" y="369.7" font-size="6.6" textLength="3.2" lengthAdjust="spacingAndGlyphs" fill="#1e1e1e" stroke="#1e1e1e" stroke-width="0.12">0</text>
<line x1="390.49" y1="358.1" x2="390.49" y2="361.1" stroke="#111" stroke-width="1.0"/>
<text x="388.89" y="369.7" font-size="6.6" textLength="3.2" lengthAdjust="spacingAndGlyphs" fill="#1e1e1e" stroke="#1e1e1e" stroke-width="0.12">1</text>
<line x1="403.58" y1="358.1" x2="403.58" y2="361.1" stroke="#111" stroke-width="1.0"/>
<text x="401.98" y="369.7" font-size="6.6" textLength="3.2" lengthAdjust="spacingAndGlyphs" fill="#1e1e1e" stroke="#1e1e1e" stroke-width="0.12">2</text>
<line x1="416.67" y1="358.1" x2="416.67" y2="361.1" stroke="#111" stroke-width="1.0"/>
<text x="415.07" y="369.7" font-size="6.6" textLength="3.2" lengthAdjust="spacingAndGlyphs" fill="#1e1e1e" stroke="#1e1e1e" stroke-width="0.12">3</text>
<line x1="429.76" y1="358.1" x2="429.76" y2="361.1" stroke="#111" stroke-width="1.0"/>
<text x="428.16" y="369.7" font-size="6.6" textLength="3.2" lengthAdjust="spacingAndGlyphs" fill="#1e1e1e" stroke="#1e1e1e" stroke-width="0.12">4</text>
<line x1="442.85" y1="358.1" x2="442.85" y2="361.1" stroke="#111" stroke-width="1.0"/>
<text x="441.25" y="369.7" font-size="6.6" textLength="3.2" lengthAdjust="spacingAndGlyphs" fill="#1e1e1e" stroke="#1e1e1e" stroke-width="0.12">5</text>
<line x1="455.94" y1="358.1" x2="455.94" y2="361.1" stroke="#111" stroke-width="1.0"/>
<text x="454.34" y="369.7" font-size="6.6" textLength="3.2" lengthAdjust="spacingAndGlyphs" fill="#1e1e1e" stroke="#1e1e1e" stroke-width="0.12">6</text>
<line x1="469.03" y1="358.1" x2="469.03" y2="361.1" stroke="#111" stroke-width="1.0"/>
<text x="467.43" y="369.7" font-size="6.6" textLength="3.2" lengthAdjust="spacingAndGlyphs" fill="#1e1e1e" stroke="#1e1e1e" stroke-width="0.12">7</text>
<line x1="482.12" y1="358.1" x2="482.12" y2="361.1" stroke="#111" stroke-width="1.0"/>
<text x="480.52" y="369.7" font-size="6.6" textLength="3.2" lengthAdjust="spacingAndGlyphs" fill="#1e1e1e" stroke="#1e1e1e" stroke-width="0.12">8</text>
<line x1="495.21" y1="358.1" x2="495.21" y2="361.1" stroke="#111" stroke-width="1.0"/>
<text x="493.61" y="369.7" font-size="6.6" textLength="3.2" lengthAdjust="spacingAndGlyphs" fill="#1e1e1e" stroke="#1e1e1e" stroke-width="0.12">9</text>
<text x="406.29999999999995" y="381.6" font-size="8.6" textLength="13.0" lengthAdjust="spacingAndGlyphs" fill="#1e1e1e" stroke="#1e1e1e" stroke-width="0.22">Years</text>
<text x="422.4" y="381.6" font-size="8.6" textLength="14.3" lengthAdjust="spacingAndGlyphs" fill="#1e1e1e" stroke="#1e1e1e" stroke-width="0.22">from</text>
<text x="439.5" y="381.6" font-size="8.6" textLength="30.0" lengthAdjust="spacingAndGlyphs" fill="#1e1e1e" stroke="#1e1e1e" stroke-width="0.22">transplant</text>
<text x="348.0" y="391.8" font-size="6.6" textLength="19.9" lengthAdjust="spacingAndGlyphs" fill="#1e1e1e" stroke="#1e1e1e" stroke-width="0.12">At risk:</text>
<text x="348.0" y="401.0" font-size="6.6" textLength="14.3" lengthAdjust="spacingAndGlyphs" fill="#1e1e1e" stroke="#1e1e1e" stroke-width="0.12">ITD+</text>
<text x="348.0" y="409.9" font-size="6.6" textLength="10.9" lengthAdjust="spacingAndGlyphs" fill="#1e1e1e" stroke="#1e1e1e" stroke-width="0.12">ITD-</text>
<text x="374.05" y="401.0" font-size="6.6" textLength="6.7" lengthAdjust="spacingAndGlyphs" fill="#1e1e1e" stroke="#1e1e1e" stroke-width="0.12">18</text>
<text x="387.14" y="401.0" font-size="6.6" textLength="6.7" lengthAdjust="spacingAndGlyphs" fill="#1e1e1e" stroke="#1e1e1e" stroke-width="0.12">17</text>
<text x="400.23" y="401.0" font-size="6.6" textLength="6.7" lengthAdjust="spacingAndGlyphs" fill="#1e1e1e" stroke="#1e1e1e" stroke-width="0.12">16</text>
<text x="413.32" y="401.0" font-size="6.6" textLength="6.7" lengthAdjust="spacingAndGlyphs" fill="#1e1e1e" stroke="#1e1e1e" stroke-width="0.12">13</text>
<text x="426.41" y="401.0" font-size="6.6" textLength="6.7" lengthAdjust="spacingAndGlyphs" fill="#1e1e1e" stroke="#1e1e1e" stroke-width="0.12">12</text>
<text x="441.18" y="401.0" font-size="6.6" textLength="3.35" lengthAdjust="spacingAndGlyphs" fill="#1e1e1e" stroke="#1e1e1e" stroke-width="0.12">9</text>
<text x="454.26" y="401.0" font-size="6.6" textLength="3.35" lengthAdjust="spacingAndGlyphs" fill="#1e1e1e" stroke="#1e1e1e" stroke-width="0.12">6</text>
<text x="467.35" y="401.0" font-size="6.6" textLength="3.35" lengthAdjust="spacingAndGlyphs" fill="#1e1e1e" stroke="#1e1e1e" stroke-width="0.12">1</text>
<text x="480.44" y="401.0" font-size="6.6" textLength="3.35" lengthAdjust="spacingAndGlyphs" fill="#1e1e1e" stroke="#1e1e1e" stroke-width="0.12">0</text>
<text x="493.53" y="401.0" font-size="6.6" textLength="3.35" lengthAdjust="spacingAndGlyphs" fill="#1e1e1e" stroke="#1e1e1e" stroke-width="0.12">0</text>
<text x="374.05" y="409.9" font-size="6.6" textLength="6.7" lengthAdjust="spacingAndGlyphs" fill="#1e1e1e" stroke="#1e1e1e" stroke-width="0.12">40</text>
<text x="387.14" y="409.9" font-size="6.6" textLength="6.7" lengthAdjust="spacingAndGlyphs" fill="#1e1e1e" stroke="#1e1e1e" stroke-width="0.12">24</text>
<text x="400.23" y="409.9" font-size="6.6" textLength="6.7" lengthAdjust="spacingAndGlyphs" fill="#1e1e1e" stroke="#1e1e1e" stroke-width="0.12">21</text>
<text x="413.32" y="409.9" font-size="6.6" textLength="6.7" lengthAdjust="spacingAndGlyphs" fill="#1e1e1e" stroke="#1e1e1e" stroke-width="0.12">18</text>
<text x="426.41" y="409.9" font-size="6.6" textLength="6.7" lengthAdjust="spacingAndGlyphs" fill="#1e1e1e" stroke="#1e1e1e" stroke-width="0.12">16</text>
<text x="441.18" y="409.9" font-size="6.6" textLength="3.35" lengthAdjust="spacingAndGlyphs" fill="#1e1e1e" stroke="#1e1e1e" stroke-width="0.12">8</text>
<text x="454.26" y="409.9" font-size="6.6" textLength="3.35" lengthAdjust="spacingAndGlyphs" fill="#1e1e1e" stroke="#1e1e1e" stroke-width="0.12">2</text>
<text x="467.35" y="409.9" font-size="6.6" textLength="3.35" lengthAdjust="spacingAndGlyphs" fill="#1e1e1e" stroke="#1e1e1e" stroke-width="0.12">2</text>
<text x="480.44" y="409.9" font-size="6.6" textLength="3.35" lengthAdjust="spacingAndGlyphs" fill="#1e1e1e" stroke="#1e1e1e" stroke-width="0.12">0</text>
<text x="493.53" y="409.9" font-size="6.6" textLength="3.35" lengthAdjust="spacingAndGlyphs" fill="#1e1e1e" stroke="#1e1e1e" stroke-width="0.12">0</text>
<text transform="translate(355.09999999999997,315.2) rotate(-90)" x="0" y="0" font-size="8.4" text-anchor="middle" textLength="47.4" lengthAdjust="spacingAndGlyphs" fill="#1e1e1e" stroke="#1e1e1e" stroke-width="0.2">Percent survival</text>
<path d="M36.7,276 H38.4 V285.5 H39.5 V296.7 H42.7 V307 H44 V318.5 H44.3 V327.9 H47.3 V337.5 H105.3" fill="none" stroke="#b3163f" stroke-width="1.5" stroke-linejoin="miter"/>
<path d="M36.7,276 H37.5 V290.6 H39.2 V298.1 H41 V306 H42 V313 H43.2 V320.4 H45.2 V327.9 H47.3 V335.8 H50.9 V346.8 H55.8 V358.1" fill="none" stroke="#3f5e98" stroke-width="1.5" stroke-linejoin="miter"/>
<rect x="68.5" y="335.6" width="1.6" height="1.7" fill="#111" fill-opacity="0.85"/>
<rect x="104.5" y="335.6" width="1.6" height="1.7" fill="#111" fill-opacity="0.85"/>
<path d="M207.3,276 H208.5 V280 H210.7 V283.7 H212.4 V287.5 H215.7 V291.4 H217.7 V294.7 H237.7 V298.5 H300.3" fill="none" stroke="#3f5e98" stroke-width="1.5" stroke-linejoin="miter"/>
<path d="M207.3,276 H209.2 V286.2 H212.4 V296.4 H212.8 V306.7 H214.4 V317.2 H215.6 V327.3 H218.5 V337.5 H275.3" fill="none" stroke="#b3163f" stroke-width="1.5" stroke-linejoin="miter"/>
<rect x="241.4" y="296.6" width="1.6" height="1.7" fill="#111" fill-opacity="0.85"/>
<rect x="251.3" y="296.6" width="1.6" height="1.7" fill="#111" fill-opacity="0.85"/>
<rect x="258.2" y="296.6" width="1.6" height="1.7" fill="#111" fill-opacity="0.85"/>
<rect x="268.0" y="296.6" width="1.6" height="1.7" fill="#111" fill-opacity="0.85"/>
<rect x="269.5" y="296.6" width="1.6" height="1.7" fill="#111" fill-opacity="0.85"/>
<rect x="274.1" y="296.6" width="1.6" height="1.7" fill="#111" fill-opacity="0.85"/>
<rect x="276.4" y="296.6" width="1.6" height="1.7" fill="#111" fill-opacity="0.85"/>
<rect x="278.7" y="296.6" width="1.6" height="1.7" fill="#111" fill-opacity="0.85"/>
<rect x="299.5" y="296.6" width="1.6" height="1.7" fill="#111" fill-opacity="0.85"/>
<rect x="259.1" y="335.6" width="1.6" height="1.7" fill="#111" fill-opacity="0.85"/>
<rect x="274.5" y="335.6" width="1.6" height="1.7" fill="#111" fill-opacity="0.85"/>
<path d="M377.4,276 H378.5 V277.2 H380.2 V279.2 H382.2 V280.7 H383.3 V282.4 H384.2 V283.5 H386.5 V285.6 H387.5 V288.2 H395.2 V289.9 H401 V291.6 H402.7 V293.9 H418.3 V295.7 H420.6 V297.4 H421.7 V299.7 H430.4 V302.2 H487.2" fill="none" stroke="#3f5e98" stroke-width="1.5" stroke-linejoin="miter"/>
<path d="M377.4,276 H390.6 V280.5 H404.8 V285.2 H478.5" fill="none" stroke="#b3163f" stroke-width="1.5" stroke-linejoin="miter"/>
<rect x="398.5" y="278.6" width="1.6" height="1.7" fill="#111" fill-opacity="0.85"/>
<rect x="409.5" y="283.3" width="1.6" height="1.7" fill="#111" fill-opacity="0.85"/>
<rect x="415.0" y="283.3" width="1.6" height="1.7" fill="#111" fill-opacity="0.85"/>
<rect x="423.8" y="283.3" width="1.6" height="1.7" fill="#111" fill-opacity="0.85"/>
<rect x="438.4" y="283.3" width="1.6" height="1.7" fill="#111" fill-opacity="0.85"/>
<rect x="439.7" y="283.3" width="1.6" height="1.7" fill="#111" fill-opacity="0.85"/>
<rect x="443.0" y="283.3" width="1.6" height="1.7" fill="#111" fill-opacity="0.85"/>
<rect x="452.2" y="283.3" width="1.6" height="1.7" fill="#111" fill-opacity="0.85"/>
<rect x="456.1" y="283.3" width="1.6" height="1.7" fill="#111" fill-opacity="0.85"/>
<rect x="457.7" y="283.3" width="1.6" height="1.7" fill="#111" fill-opacity="0.85"/>
<rect x="465.4" y="283.3" width="1.6" height="1.7" fill="#111" fill-opacity="0.85"/>
<rect x="477.7" y="283.3" width="1.6" height="1.7" fill="#111" fill-opacity="0.85"/>
<rect x="395.2" y="288.0" width="1.6" height="1.7" fill="#111" fill-opacity="0.85"/>
<rect x="410.0" y="292.0" width="1.6" height="1.7" fill="#111" fill-opacity="0.85"/>
<rect x="412.3" y="292.0" width="1.6" height="1.7" fill="#111" fill-opacity="0.85"/>
<rect x="414.6" y="292.0" width="1.6" height="1.7" fill="#111" fill-opacity="0.85"/>
<rect x="424.7" y="297.8" width="1.6" height="1.7" fill="#111" fill-opacity="0.85"/>
<rect x="432.7" y="300.3" width="1.6" height="1.7" fill="#111" fill-opacity="0.85"/>
<rect x="434.7" y="300.3" width="1.6" height="1.7" fill="#111" fill-opacity="0.85"/>
<rect x="436.7" y="300.3" width="1.6" height="1.7" fill="#111" fill-opacity="0.85"/>
<rect x="438.7" y="300.3" width="1.6" height="1.7" fill="#111" fill-opacity="0.85"/>
<rect x="441.2" y="300.3" width="1.6" height="1.7" fill="#111" fill-opacity="0.85"/>
<rect x="444.2" y="300.3" width="1.6" height="1.7" fill="#111" fill-opacity="0.85"/>
<rect x="447.2" y="300.3" width="1.6" height="1.7" fill="#111" fill-opacity="0.85"/>
<rect x="450.2" y="300.3" width="1.6" height="1.7" fill="#111" fill-opacity="0.85"/>
<rect x="455.2" y="300.3" width="1.6" height="1.7" fill="#111" fill-opacity="0.85"/>
<rect x="464.2" y="300.3" width="1.6" height="1.7" fill="#111" fill-opacity="0.85"/>
<rect x="466.2" y="300.3" width="1.6" height="1.7" fill="#111" fill-opacity="0.85"/>
<rect x="468.2" y="300.3" width="1.6" height="1.7" fill="#111" fill-opacity="0.85"/>
<rect x="477.2" y="300.3" width="1.6" height="1.7" fill="#111" fill-opacity="0.85"/>
<rect x="486.4" y="300.3" width="1.6" height="1.7" fill="#111" fill-opacity="0.85"/>
<text x="58.3" y="335.4" font-size="7.0" textLength="12.3" lengthAdjust="spacingAndGlyphs" fill="#b3163f" stroke="#b3163f" stroke-width="0.12">25%</text>
<text x="59.8" y="355.6" font-size="7.0" textLength="8.9" lengthAdjust="spacingAndGlyphs" fill="#3f5e98" stroke="#3f5e98" stroke-width="0.12">0%</text>
<text x="76.7" y="354.2" font-size="7.0" textLength="17.6" lengthAdjust="spacingAndGlyphs" fill="#1e1e1e" stroke="#1e1e1e" stroke-width="0.12">p=0.5</text>
<text x="226.6" y="291.4" font-size="7.0" textLength="12.4" lengthAdjust="spacingAndGlyphs" fill="#3f5e98" stroke="#3f5e98" stroke-width="0.12">77%</text>
<text x="226.7" y="334.8" font-size="7.0" textLength="12.1" lengthAdjust="spacingAndGlyphs" fill="#b3163f" stroke="#b3163f" stroke-width="0.12">25%</text>
<text x="210" y="354.3" font-size="7.0" textLength="20.4" lengthAdjust="spacingAndGlyphs" fill="#1e1e1e" stroke="#1e1e1e" stroke-width="0.12">p=0.01</text>
<text x="400.6" y="278.7" font-size="7.0" textLength="12.5" lengthAdjust="spacingAndGlyphs" fill="#b3163f" stroke="#b3163f" stroke-width="0.12">94%</text>
<text x="401.8" y="302.2" font-size="7.0" textLength="11.9" lengthAdjust="spacingAndGlyphs" fill="#3f5e98" stroke="#3f5e98" stroke-width="0.12">77%</text>
<text x="381.9" y="353.7" font-size="7.0" textLength="21.0" lengthAdjust="spacingAndGlyphs" fill="#1e1e1e" stroke="#1e1e1e" stroke-width="0.12">p=0.13</text>
<text x="118.7" y="336.5" font-size="6.3" textLength="49.6" lengthAdjust="spacingAndGlyphs" fill="#1e1e1e" stroke="#1e1e1e" stroke-width="0.12">FLT3 ITD STATUS</text>
<line x1="119.8" y1="343.5" x2="126" y2="343.5" stroke="#b3163f" stroke-width="1.3"/>
<line x1="122.9" y1="342.5" x2="122.9" y2="344.1" stroke="#111" stroke-width="0.7"/>
<text x="129.1" y="345.5" font-size="6.1" textLength="26.3" lengthAdjust="spacingAndGlyphs" fill="#1e1e1e" stroke="#1e1e1e" stroke-width="0.12">POS n=8</text>
<line x1="119.8" y1="349.5" x2="126" y2="349.5" stroke="#3f5e98" stroke-width="1.3"/>
<line x1="122.9" y1="348.5" x2="122.9" y2="350.1" stroke="#111" stroke-width="0.7"/>
<text x="129.1" y="351.6" font-size="6.1" textLength="30.3" lengthAdjust="spacingAndGlyphs" fill="#1e1e1e" stroke="#1e1e1e" stroke-width="0.12">NEG n=11</text>
<text x="287.9" y="337.9" font-size="6.3" textLength="50.2" lengthAdjust="spacingAndGlyphs" fill="#1e1e1e" stroke="#1e1e1e" stroke-width="0.12">FLT3 ITD STATUS</text>
<line x1="286.7" y1="343.8" x2="292.8" y2="343.8" stroke="#3f5e98" stroke-width="1.3"/>
<line x1="289.75" y1="342.8" x2="289.75" y2="344.40000000000003" stroke="#111" stroke-width="0.7"/>
<text x="296" y="345.8" font-size="6.1" textLength="30.3" lengthAdjust="spacingAndGlyphs" fill="#1e1e1e" stroke="#1e1e1e" stroke-width="0.12">NEG n=22</text>
<line x1="286.7" y1="351.8" x2="292.8" y2="351.8" stroke="#b3163f" stroke-width="1.3"/>
<line x1="289.75" y1="350.8" x2="289.75" y2="352.40000000000003" stroke="#111" stroke-width="0.7"/>
<text x="296" y="353.3" font-size="6.1" textLength="26.2" lengthAdjust="spacingAndGlyphs" fill="#1e1e1e" stroke="#1e1e1e" stroke-width="0.12">POS n=8</text>
<text x="462.8" y="337.9" font-size="6.3" textLength="49.9" lengthAdjust="spacingAndGlyphs" fill="#1e1e1e" stroke="#1e1e1e" stroke-width="0.12">FLT3 ITD STATUS</text>
<line x1="461.3" y1="343.5" x2="467.1" y2="343.5" stroke="#b3163f" stroke-width="1.3"/>
<line x1="464.20000000000005" y1="342.5" x2="464.20000000000005" y2="344.1" stroke="#111" stroke-width="0.7"/>
<text x="470.2" y="345.5" font-size="6.1" textLength="29.6" lengthAdjust="spacingAndGlyphs" fill="#1e1e1e" stroke="#1e1e1e" stroke-width="0.12">POS <tspan font-style="italic">n</tspan>=18</text>
<line x1="461.3" y1="351.0" x2="467.1" y2="351.0" stroke="#3f5e98" stroke-width="1.3"/>
<line x1="464.20000000000005" y1="350.0" x2="464.20000000000005" y2="351.6" stroke="#111" stroke-width="0.7"/>
<text x="470.2" y="352.7" font-size="6.1" textLength="31.0" lengthAdjust="spacingAndGlyphs" fill="#1e1e1e" stroke="#1e1e1e" stroke-width="0.12">NEG <tspan font-style="italic">n</tspan>=40</text>
<rect x="0.55" y="0.5" width="518.9" height="418" fill="none" stroke="#000" stroke-width="1.1"/>
</svg>
</body></html>
